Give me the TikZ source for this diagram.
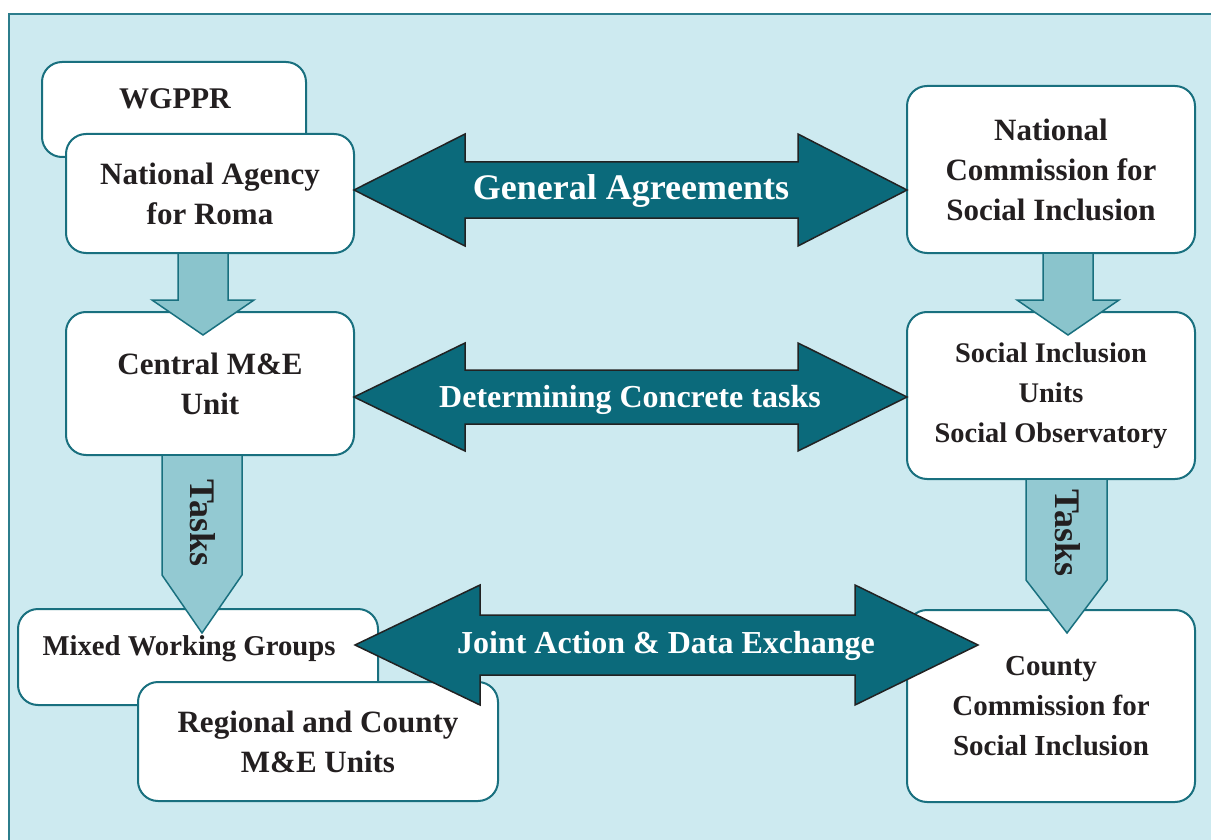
\documentclass[tikz,border=0pt]{standalone}
\usepackage{fontspec}
\setmainfont{Liberation Serif}
\definecolor{panelfill}{HTML}{CDEAF0}
\definecolor{panelline}{HTML}{2C7D8C}
\definecolor{boxline}{HTML}{19707F}
\definecolor{darkarrow}{HTML}{0B6A7B}
\definecolor{arrowline}{HTML}{222222}
\definecolor{lightarrow}{HTML}{8AC4CC}
\definecolor{taskarrow}{HTML}{93C9D2}
\definecolor{txt}{HTML}{231F20}
\tikzset{
  box/.style={draw=boxline, fill=white, line width=2pt, rounded corners=20pt,
    inner sep=0pt, outer sep=0pt, align=center, text=txt,
    font=\fontsize{31}{40}\selectfont\bfseries},
  boxtext/.style={inner sep=0pt, text=txt, align=center, font=\fontsize{31}{40}\selectfont\bfseries},
  bigarrow/.style={draw=arrowline, fill=darkarrow, line width=1.5pt, line join=miter},
  downarrow/.style={draw=boxline, fill=lightarrow, line width=1.5pt},
  taskshape/.style={draw=boxline, fill=taskarrow, line width=1.5pt},
  arrowtext/.style={inner sep=0pt, text=white, font=\fontsize{32}{38}\selectfont\bfseries},
  tasktext/.style={inner sep=0pt, text=txt, rotate=-90, font=\fontsize{36}{40}\selectfont\bfseries}
}
\begin{document}
\begin{tikzpicture}[x=1pt,y=-1pt]
\useasboundingbox (0,0) rectangle (1211,840);
\begin{scope}
\clip (0,0) rectangle (1211,840);
\fill[white] (0,0) rectangle (1211,840);
\draw[panelline, fill=panelfill, line width=1.5pt] (9,14) rectangle (1230,860);

% boxes
\node[box, minimum width=264pt, minimum height=95pt] (wgppr) at (174,109.5) {};
\node[boxtext, font=\fontsize{30}{40}\selectfont\bfseries] (wgpprtext) at (175,99) {WGPPR};
\node[box, minimum width=288pt, minimum height=119pt] (nar) at (210,193.5) {National Agency\\for Roma};
\node[box, minimum width=288pt, minimum height=143pt] (cme) at (210,383.5) {Central M\&E\\Unit};
\node[box, minimum width=288pt, minimum height=167pt] (ncsi) at (1051,169.5) {National\\Commission for\\Social Inclusion};
\node[box, minimum width=288pt, minimum height=167pt, font=\fontsize{28.4}{40}\selectfont\bfseries] (siu) at (1051,395.5) {Social Inclusion\\Units\\Social Observatory};
\node[box, minimum width=360pt, minimum height=96pt] (mwg) at (198,657) {};
\node[boxtext, font=\fontsize{28.7}{40}\selectfont\bfseries] (mwgtext) at (189,649) {Mixed Working Groups};
\node[box, minimum width=360pt, minimum height=119pt] (rcu) at (318,741.5) {Regional and County\\M\&E Units};
\node[box, minimum width=288pt, minimum height=192pt, font=\fontsize{29}{40}\selectfont\bfseries] (ccsi) at (1051,706) {County\\Commission for\\Social Inclusion};

% light down arrows
\draw[downarrow] (178,253) -- (228,253) -- (228,300) -- (254,300) -- (203,335) -- (152,300) -- (178,300) -- cycle;
\draw[downarrow] (1043,253) -- (1093,253) -- (1093,300) -- (1119,300) -- (1068,335) -- (1017,300) -- (1043,300) -- cycle;

% tasks arrows
\draw[taskshape] (162,455) -- (242,455) -- (242,575) -- (202,633) -- (162,575) -- cycle;
\node[tasktext] (taskl) at (203,523) {Tasks};
\draw[taskshape] (1026,479) -- (1107,479) -- (1107,580) -- (1067,633) -- (1026,580) -- cycle;
\node[tasktext] (taskr) at (1068,533) {Tasks};

% dark double arrows
\draw[bigarrow] (354,190) -- (465,134) -- (465,162) -- (798,162) -- (798,134) -- (907,190) -- (798,246) -- (798,218) -- (465,218) -- (465,246) -- cycle;
\node[arrowtext, font=\fontsize{36}{40}\selectfont\bfseries] (ga) at (631,191) {General Agreements};
\draw[bigarrow] (354,397) -- (465,343) -- (465,370) -- (798,370) -- (798,343) -- (907,397) -- (798,451) -- (798,424) -- (465,424) -- (465,451) -- cycle;
\node[arrowtext] (dct) at (630,400) {Determining Concrete tasks};
\draw[bigarrow] (355,645) -- (480,585) -- (480,615) -- (855,615) -- (855,585) -- (978,645) -- (855,705) -- (855,675) -- (480,675) -- (480,705) -- cycle;
\node[arrowtext] (jade) at (666,646) {Joint Action \& Data Exchange};
\end{scope}
\end{tikzpicture}
\end{document}
